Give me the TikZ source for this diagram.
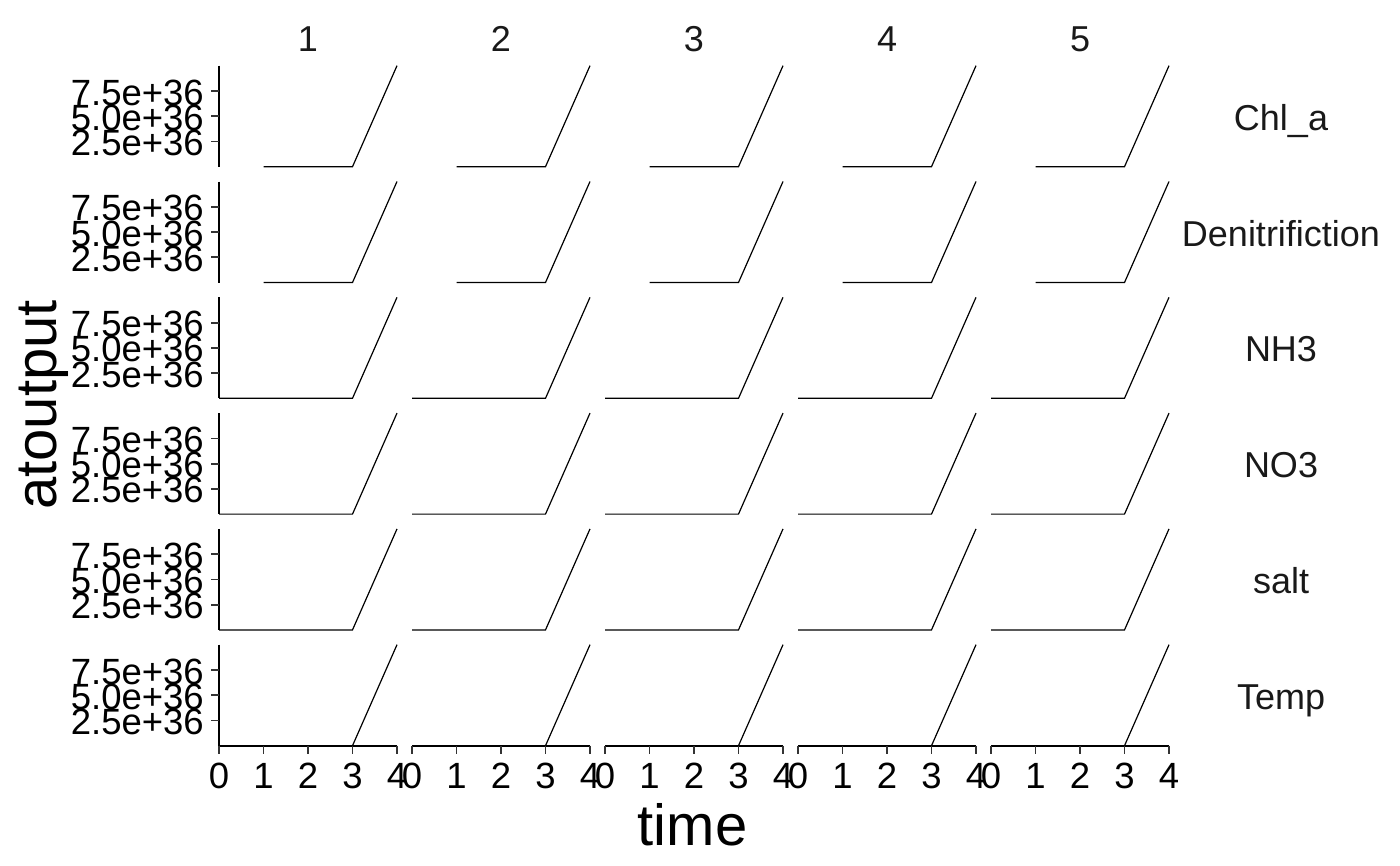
\documentclass[tikz,border=0pt]{standalone}
\usepackage{fontspec}
\setmainfont{Liberation Sans}
\tikzset{
	axisline/.style={line width=1.8pt, black},
	tickmark/.style={line width=1.8pt, black!80},
	dataline/.style={line width=1.2pt, black, line join=miter},
	ticklab/.style={inner sep=0pt, text=black, font=\fontsize{36.5}{36.5}\selectfont},
	striplab/.style={inner sep=0pt, text=black!90, font=\fontsize{36}{36}\selectfont},
	axtitle/.style={inner sep=0pt, text=black, font=\fontsize{58}{58}\selectfont}
}
\begin{document}
\begin{tikzpicture}[x=1pt, y=-1pt]
	\useasboundingbox (0,0) rectangle (1400,865);

	% column strips
	\foreach \c in {1,...,5}{
		\node[striplab, anchor=base] (col\c) at ({308+193*(\c-1)}, 51){\c};
	}

	% rows: strip label, y axis, panels
	\foreach \lab/\xs [count=\r] in {Chl\_a/1, Denitrifiction/1, NH3/0, NO3/0, salt/0, Temp/0}{
		\pgfmathsetmacro\yb{166.7+115.8*(\r-1)}
		\pgfmathsetmacro\yt{\yb-101}
		\node[striplab, anchor=base] (row\r) at (1281, \yb-36.5){\lab};
		\draw[axisline] (219, \yt) -- (219, \yb);
		\foreach \k/\t in {1/2.5e+36, 2/5.0e+36, 3/7.5e+36}{
			\draw[tickmark] (211, \yb-25.2*\k) -- (219, \yb-25.2*\k);
			\node[ticklab, anchor=east] (yl\r\k) at (204, \yb-25.2*\k+1.5){\t};
		}
		\foreach \c in {1,...,5}{
			\pgfmathsetmacro\xo{219+193*(\c-1)}
			\draw[dataline] (\xo+44.5*\xs, \yb) -- (\xo+133.5, \yb) -- (\xo+178, \yt);
		}
	}

	% bottom x axes
	\foreach \c in {1,...,5}{
		\pgfmathsetmacro\xo{219+193*(\c-1)}
		\draw[axisline] (\xo, 745.7) -- (\xo+178, 745.7);
		\foreach \k in {0,...,4}{
			\draw[tickmark] (\xo+44.5*\k, 745.7) -- (\xo+44.5*\k, 753.5);
			\node[ticklab, anchor=base] (xl\c\k) at (\xo+44.5*\k, 788){\k};
		}
	}

	\node[axtitle, anchor=base] (xtitle) at (692.5, 845){time};
	\node[axtitle, anchor=base, rotate=90] (ytitle) at (56, 405){atoutput};
\end{tikzpicture}
\end{document}
